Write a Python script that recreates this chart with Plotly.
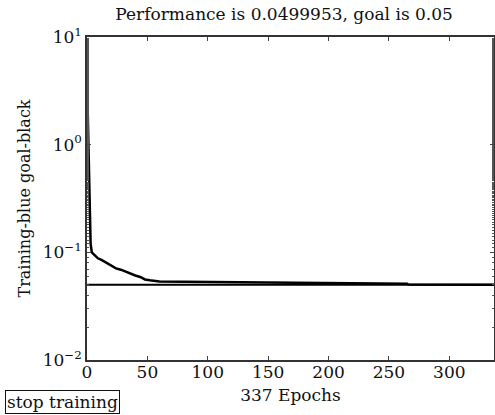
import plotly.graph_objects as go

# Training performance (epoch, mse)
epochs = [0, 1, 2, 2.5, 3, 4, 6, 9, 12, 16, 20, 24, 28, 32, 36, 40, 44, 48, 52, 56, 60, 80, 100, 130, 160, 190, 220, 250, 265, 266, 300, 337]
perf = [4.1, 1.0, 0.33, 0.2, 0.12, 0.1, 0.095, 0.088, 0.085, 0.08, 0.075, 0.071, 0.069, 0.066, 0.063, 0.061, 0.059, 0.056, 0.055, 0.054, 0.0535, 0.0532, 0.053, 0.0527, 0.0524, 0.0521, 0.0517, 0.0514, 0.0512, 0.0503, 0.0501, 0.04999]
goal_x = [0, 337]
goal_y = [0.05, 0.05]

y_tickvals = [10, 1, 0.1, 0.01]
y_ticktext = ["10<sup>1</sup>", "10<sup>0</sup>", "10<sup>−1</sup>", "10<sup>−2</sup>"]
x_tickvals = [0, 50, 100, 150, 200, 250, 300]

FONT = "DejaVu Serif"

fig = go.Figure()
fig.add_trace(go.Scatter(x=epochs, y=perf, mode="lines",
                         line=dict(color="black", width=2.5), showlegend=False))
fig.add_trace(go.Scatter(x=goal_x, y=goal_y, mode="lines",
                         line=dict(color="black", width=2), showlegend=False))

fig.update_layout(
    width=495, height=415,
    margin=dict(l=87, r=1, t=37, b=55, autoexpand=False),
    paper_bgcolor="white", plot_bgcolor="white",
    font=dict(family=FONT, size=17, color="#111"),
    title=dict(text="Performance is 0.0499953, goal is 0.05", x=0.574, xanchor="center",
               y=1 - 14 / 415, yanchor="middle", font=dict(family=FONT, size=17)),
    xaxis=dict(range=[0, 337], tickvals=x_tickvals, ticks="inside", ticklen=4,
               showline=True, linecolor="#333", linewidth=1.5, mirror="ticks",
               showgrid=False, zeroline=False, automargin=False,
               tickfont=dict(size=17), ticklabelstandoff=-4,
               title=dict(text="337 Epochs", standoff=8, font=dict(size=17))),
    yaxis=dict(type="log", range=[-2, 1], tickvals=y_tickvals, ticktext=y_ticktext,
               ticks="inside", ticklen=4, showline=True, linecolor="#333", linewidth=1.5,
               mirror="ticks", showgrid=False, zeroline=False, automargin=False,
               tickfont=dict(size=17),
               minor=dict(ticks="inside", ticklen=2, tickcolor="#555", showgrid=False),
               title=dict(text="Training-blue goal-black", standoff=8, font=dict(size=16))),
    annotations=[dict(text="stop training", xref="paper", yref="paper",
                      x=(5 - 87) / 407, y=(360 - 390) / 323, xanchor="left", yanchor="top",
                      showarrow=False,
                      font=dict(family=FONT, size=17, color="#111"),
                      bordercolor="#111", borderwidth=1, borderpad=1, bgcolor="white")],
)

fig.write_html("out.html", config={"displayModeBar": False},
               post_script="document.body.style.margin='0';")
